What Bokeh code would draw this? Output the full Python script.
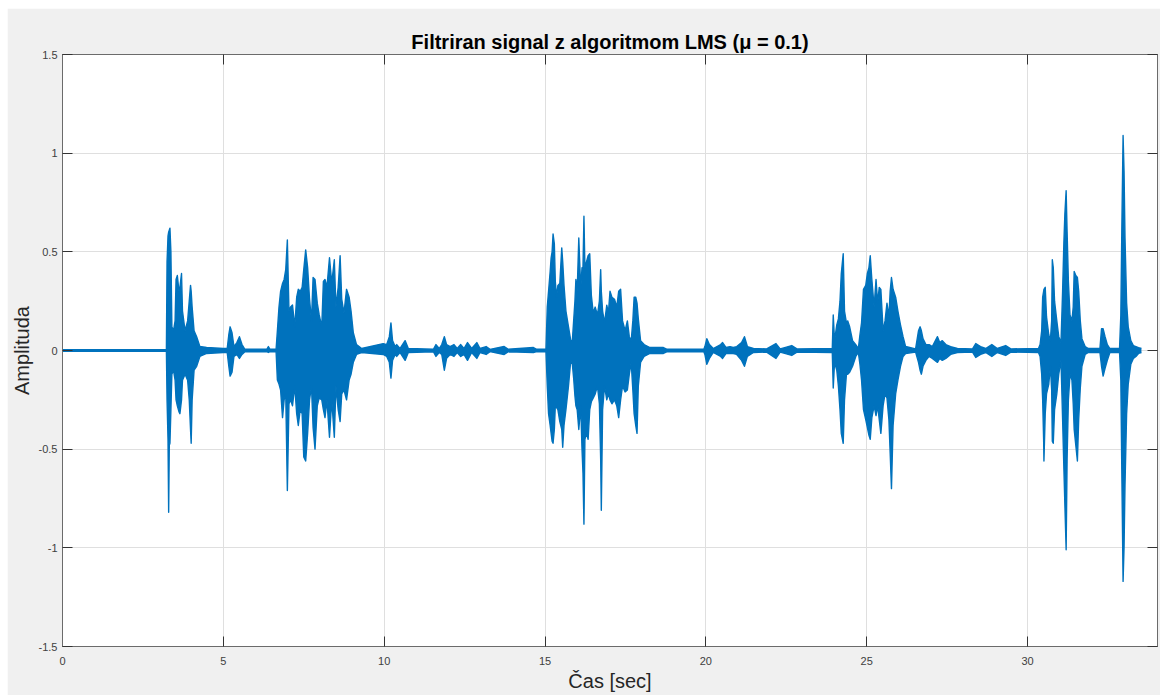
from bokeh.plotting import figure
from bokeh.models import LinearAxis, FixedTicker, Range1d
from bokeh.embed import file_html
from bokeh.resources import INLINE

# ---------------- data ----------------
title_text = "Filtriran signal z algoritmom LMS (\u03bc = 0.1)"
x_label = "\u010cas [sec]"
y_label = "Amplituda"

x_ticks = [0, 5, 10, 15, 20, 25, 30]
x_tick_labels = ["0", "5", "10", "15", "20", "25", "30"]
y_ticks = [-1.5, -1.0, -0.5, 0.0, 0.5, 1.0, 1.5]
y_tick_labels = ["-1.5", "-1", "-0.5", "0", "0.5", "1", "1.5"]

# envelope of the filtered speech signal: time [s], upper peak, lower peak
sig_t = [
    0.00, 3.23, 3.25, 3.28, 3.30, 3.32, 3.34, 3.37, 3.40, 3.45, 3.50, 3.53, 3.57, 3.62, 3.65,
    3.70, 3.73, 3.81, 3.89, 3.94, 3.98, 4.00, 4.03, 4.09, 4.17, 4.27, 4.48, 5.00, 5.12, 5.17,
    5.21, 5.27, 5.33, 5.42, 5.50, 5.58, 5.67, 6.35, 6.40, 6.45, 6.64, 6.68, 6.73, 6.78, 6.84,
    6.89, 6.94, 6.99, 7.04, 7.09, 7.15, 7.22, 7.28, 7.33, 7.39, 7.45, 7.50, 7.56, 7.62, 7.68,
    7.74, 7.79, 7.85, 7.92, 7.98, 8.06, 8.11, 8.16, 8.22, 8.30, 8.37, 8.45, 8.50, 8.57, 8.63,
    8.68, 8.75, 8.83, 8.91, 8.97, 9.04, 9.14, 9.30, 9.97, 10.08, 10.16, 10.21, 10.26, 10.34, 10.39,
    10.49, 10.65, 10.75, 11.53, 11.61, 11.71, 11.79, 11.87, 11.94, 12.05, 12.17, 12.27, 12.38, 12.48, 12.59,
    12.72, 12.88, 12.98, 13.17, 13.29, 13.73, 13.86, 14.64, 14.74, 15.03, 15.07, 15.11, 15.16, 15.19, 15.22,
    15.25, 15.29, 15.32, 15.36, 15.40, 15.46, 15.52, 15.55, 15.59, 15.65, 15.73, 15.80, 15.85, 15.89, 15.93,
    15.96, 16.00, 16.05, 16.11, 16.15, 16.18, 16.21, 16.24, 16.29, 16.34, 16.39, 16.44, 16.50, 16.56, 16.63,
    16.69, 16.73, 16.75, 16.79, 16.85, 16.92, 16.97, 17.02, 17.08, 17.16, 17.23, 17.29, 17.35, 17.41, 17.49,
    17.56, 17.62, 17.68, 17.73, 17.77, 17.82, 17.86, 17.90, 17.97, 18.08, 18.26, 18.68, 18.78, 19.94, 19.97,
    20.03, 20.11, 20.23, 20.46, 20.52, 20.63, 20.75, 20.85, 20.96, 21.11, 21.20, 21.29, 21.48, 21.89, 22.18,
    22.31, 22.67, 22.83, 23.93, 23.96, 24.00, 24.07, 24.12, 24.17, 24.21, 24.27, 24.31, 24.37, 24.41, 24.47,
    24.56, 24.66, 24.74, 24.79, 24.84, 24.90, 24.97, 25.02, 25.07, 25.11, 25.16, 25.23, 25.29, 25.34, 25.39,
    25.44, 25.51, 25.57, 25.63, 25.69, 25.73, 25.77, 25.82, 25.90, 25.97, 26.05, 26.13, 26.21, 26.52, 26.61,
    26.66, 26.70, 26.75, 26.84, 26.94, 27.04, 27.20, 27.27, 27.35, 27.46, 27.61, 27.82, 28.29, 28.39, 28.54,
    28.70, 28.89, 29.06, 29.32, 29.48, 30.34, 30.39, 30.44, 30.47, 30.50, 30.51, 30.55, 30.59, 30.66, 30.71,
    30.75, 30.77, 30.80, 30.84, 30.91, 30.97, 31.04, 31.09, 31.13, 31.16, 31.20, 31.23, 31.27, 31.32, 31.38,
    31.42, 31.45, 31.50, 31.55, 31.59, 31.64, 31.69, 31.79, 31.89, 32.25, 32.30, 32.35, 32.41, 32.48, 32.56,
    32.86, 32.90, 32.93, 32.97, 33.00, 33.03, 33.08, 33.13, 33.21, 33.29, 33.37, 33.45, 33.54,
]
sig_hi = [
    0.004, 0.004, 0.45, 0.58, 0.60, 0.61, 0.62, 0.50, 0.12, 0.10, 0.15, 0.36, 0.38, 0.30, 0.32,
    0.39, 0.20, 0.10, 0.15, 0.25, 0.33, 0.30, 0.22, 0.10, 0.07, 0.02, 0.015, 0.01, 0.01, 0.08,
    0.12, 0.09, 0.02, 0.04, 0.07, 0.03, 0.006, 0.006, 0.02, 0.006, 0.006, 0.10, 0.22, 0.30, 0.34,
    0.36, 0.41, 0.56, 0.20, 0.22, 0.23, 0.12, 0.27, 0.31, 0.30, 0.32, 0.41, 0.51, 0.42, 0.26,
    0.15, 0.37, 0.36, 0.24, 0.18, 0.12, 0.35, 0.36, 0.32, 0.47, 0.34, 0.46, 0.22, 0.32, 0.48,
    0.26, 0.19, 0.31, 0.27, 0.20, 0.09, 0.03, 0.01, 0.035, 0.03, 0.07, 0.14, 0.05, 0.02, 0.03,
    0.01, 0.05, 0.01, 0.006, 0.03, 0.01, 0.03, 0.07, 0.03, 0.02, 0.03, 0.01, 0.03, 0.01, 0.04,
    0.01, 0.04, 0.01, 0.02, 0.006, 0.02, 0.006, 0.015, 0.006, 0.006, 0.22, 0.30, 0.40, 0.47, 0.50,
    0.59, 0.54, 0.35, 0.27, 0.33, 0.34, 0.52, 0.45, 0.33, 0.20, 0.12, 0.05, 0.05, 0.15, 0.25,
    0.36, 0.30, 0.57, 0.31, 0.42, 0.42, 0.68, 0.42, 0.45, 0.48, 0.49, 0.28, 0.19, 0.22, 0.18,
    0.25, 0.41, 0.30, 0.20, 0.14, 0.23, 0.19, 0.30, 0.27, 0.26, 0.22, 0.30, 0.31, 0.15, 0.10,
    0.15, 0.07, 0.05, 0.15, 0.27, 0.27, 0.24, 0.16, 0.05, 0.03, 0.015, 0.015, 0.007, 0.007, 0.02,
    0.06, 0.03, 0.01, 0.03, 0.04, 0.015, 0.02, 0.015, 0.02, 0.04, 0.07, 0.02, 0.01, 0.008, 0.035,
    0.008, 0.025, 0.008, 0.01, 0.18, 0.05, 0.13, 0.16, 0.25, 0.39, 0.49, 0.20, 0.14, 0.15, 0.12,
    0.05, 0.03, 0.01, 0.08, 0.14, 0.31, 0.33, 0.39, 0.42, 0.48, 0.36, 0.22, 0.36, 0.24, 0.32,
    0.31, 0.10, 0.15, 0.24, 0.17, 0.30, 0.37, 0.31, 0.27, 0.20, 0.13, 0.07, 0.02, 0.008, 0.10,
    0.12, 0.10, 0.06, 0.03, 0.03, 0.02, 0.07, 0.04, 0.05, 0.03, 0.02, 0.01, 0.008, 0.035, 0.02,
    0.01, 0.03, 0.01, 0.025, 0.008, 0.01, 0.03, 0.10, 0.27, 0.30, 0.31, 0.32, 0.17, 0.08, 0.05,
    0.15, 0.46, 0.42, 0.25, 0.15, 0.07, 0.04, 0.30, 0.55, 0.69, 0.81, 0.60, 0.35, 0.18, 0.15,
    0.22, 0.40, 0.38, 0.37, 0.30, 0.15, 0.06, 0.02, 0.01, 0.01, 0.11, 0.11, 0.07, 0.03, 0.01,
    0.01, 0.18, 0.60, 1.09, 0.91, 0.57, 0.24, 0.12, 0.05, 0.025, 0.02, 0.015, 0.01,
]
sig_lo = [
    -0.004, -0.004, -0.25, -0.45, -0.82, -0.48, -0.47, -0.30, -0.12, -0.10, -0.15, -0.25, -0.28, -0.31, -0.32,
    -0.25, -0.15, -0.12, -0.15, -0.25, -0.40, -0.47, -0.25, -0.10, -0.08, -0.03, -0.015, -0.01, -0.01, -0.08,
    -0.13, -0.11, -0.03, -0.02, -0.04, -0.02, -0.006, -0.006, -0.01, -0.006, -0.006, -0.15, -0.17, -0.20, -0.34,
    -0.25, -0.22, -0.71, -0.27, -0.25, -0.28, -0.18, -0.32, -0.38, -0.30, -0.32, -0.54, -0.56, -0.42, -0.25,
    -0.18, -0.39, -0.50, -0.28, -0.24, -0.25, -0.30, -0.34, -0.25, -0.44, -0.25, -0.44, -0.18, -0.30, -0.36,
    -0.22, -0.20, -0.25, -0.15, -0.12, -0.06, -0.02, -0.01, -0.02, -0.03, -0.06, -0.14, -0.05, -0.02, -0.03,
    -0.01, -0.05, -0.01, -0.006, -0.03, -0.01, -0.02, -0.10, -0.04, -0.02, -0.03, -0.01, -0.03, -0.02, -0.05,
    -0.01, -0.04, -0.01, -0.02, -0.006, -0.02, -0.006, -0.01, -0.006, -0.006, -0.18, -0.32, -0.38, -0.42, -0.46,
    -0.47, -0.40, -0.28, -0.29, -0.30, -0.36, -0.40, -0.49, -0.38, -0.30, -0.18, -0.05, -0.07, -0.14, -0.23,
    -0.28, -0.30, -0.40, -0.28, -0.50, -0.62, -0.88, -0.45, -0.42, -0.45, -0.30, -0.26, -0.24, -0.22, -0.18,
    -0.27, -0.55, -0.81, -0.30, -0.18, -0.25, -0.22, -0.25, -0.27, -0.25, -0.28, -0.34, -0.25, -0.18, -0.21,
    -0.20, -0.12, -0.06, -0.20, -0.32, -0.38, -0.42, -0.18, -0.06, -0.03, -0.015, -0.015, -0.007, -0.007, -0.02,
    -0.07, -0.04, -0.01, -0.03, -0.04, -0.015, -0.015, -0.015, -0.02, -0.05, -0.08, -0.03, -0.01, -0.008, -0.04,
    -0.008, -0.025, -0.008, -0.01, -0.19, -0.06, -0.10, -0.18, -0.30, -0.42, -0.47, -0.25, -0.12, -0.12, -0.11,
    -0.08, -0.03, -0.01, -0.07, -0.15, -0.30, -0.35, -0.39, -0.43, -0.45, -0.34, -0.28, -0.33, -0.28, -0.35,
    -0.42, -0.28, -0.22, -0.24, -0.35, -0.52, -0.70, -0.38, -0.22, -0.15, -0.08, -0.03, -0.015, -0.008, -0.06,
    -0.10, -0.12, -0.08, -0.05, -0.03, -0.04, -0.06, -0.04, -0.05, -0.04, -0.02, -0.01, -0.008, -0.035, -0.02,
    -0.01, -0.03, -0.01, -0.025, -0.008, -0.01, -0.03, -0.12, -0.25, -0.45, -0.56, -0.32, -0.22, -0.17, -0.08,
    -0.20, -0.46, -0.47, -0.30, -0.22, -0.12, -0.05, -0.35, -0.60, -0.78, -1.01, -0.55, -0.25, -0.12, -0.15,
    -0.27, -0.40, -0.48, -0.56, -0.35, -0.19, -0.08, -0.02, -0.01, -0.01, -0.08, -0.13, -0.09, -0.05, -0.01,
    -0.01, -0.15, -0.60, -1.17, -1.00, -0.68, -0.32, -0.17, -0.07, -0.04, -0.03, -0.015, -0.01,
]

x_max = 34.04
y_min, y_max = -1.5, 1.5

# ---------------- styling ----------------
LINE_BLUE = "#0072BD"
FONT = "Liberation Sans"
AXIS_GRAY = "#6b6b6b"
TEXT_GRAY = "#404040"

p = figure(
    width=1153, height=687,
    output_backend="svg", toolbar_location=None,
    x_range=Range1d(0, x_max), y_range=Range1d(y_min, y_max),
    min_border_left=55, min_border_right=3, min_border_top=46, min_border_bottom=49,
    title=title_text,
)
p.margin = (8, 3, 0, 7)
p.border_fill_color = "#F0F0F0"
p.background_fill_color = "#FFFFFF"
p.outline_line_color = AXIS_GRAY
p.outline_line_width = 1

p.title.text_font = FONT
p.title.text_font_size = "20px"
p.title.text_font_style = "bold"
p.title.text_color = "#000000"
p.title.align = "center"
p.title.standoff = 4

xt = FixedTicker(ticks=x_ticks)
yt = FixedTicker(ticks=y_ticks)

for ax in p.xaxis:
    ax.ticker = xt
    ax.major_label_overrides = dict(zip(x_ticks, x_tick_labels))
    ax.axis_label = x_label
    ax.axis_label_standoff = 2
    ax.major_label_standoff = 10
for ax in p.yaxis:
    ax.ticker = yt
    ax.major_label_overrides = dict(zip(y_ticks, y_tick_labels))
    ax.axis_label = y_label
    ax.axis_label_standoff = 3
    ax.major_label_standoff = 5

for ax in list(p.xaxis) + list(p.yaxis):
    ax.axis_line_color = AXIS_GRAY
    ax.major_tick_line_color = "#333333"
    ax.major_tick_in = 10
    ax.major_tick_out = 0
    ax.minor_tick_line_color = None
    ax.major_label_text_font = FONT
    ax.major_label_text_font_size = "11px"
    ax.major_label_text_color = TEXT_GRAY
    ax.axis_label_text_font = FONT
    ax.axis_label_text_font_size = "20px"
    ax.axis_label_text_font_style = "normal"
    ax.axis_label_text_color = "#262626"

# top and right tick marks only (box on), no labels drawn
top_ax = LinearAxis(ticker=xt, major_tick_in=10, major_tick_out=0,
                    major_label_text_font_size="0px", major_label_text_color=None,
                    major_label_standoff=0,
                    axis_line_color=AXIS_GRAY, major_tick_line_color="#333333",
                    minor_tick_line_color=None)
right_ax = LinearAxis(ticker=yt, major_tick_in=10, major_tick_out=0,
                      major_label_text_font_size="0px", major_label_text_color=None,
                      major_label_standoff=0,
                      axis_line_color=AXIS_GRAY, major_tick_line_color="#333333",
                      minor_tick_line_color=None)
p.add_layout(top_ax, "above")
p.add_layout(right_ax, "right")

p.xgrid.grid_line_color = "#DFDFDF"
p.ygrid.grid_line_color = "#DFDFDF"
p.xgrid.grid_line_width = 1
p.ygrid.grid_line_width = 1

# signal
p.varea(x=sig_t, y1=sig_lo, y2=sig_hi, fill_color=LINE_BLUE, fill_alpha=1.0)
p.line(sig_t, sig_hi, line_color=LINE_BLUE, line_width=1.4, line_join="round")
p.line(sig_t, sig_lo, line_color=LINE_BLUE, line_width=1.4, line_join="round")

open("out.html", "w").write(file_html(p, INLINE))
